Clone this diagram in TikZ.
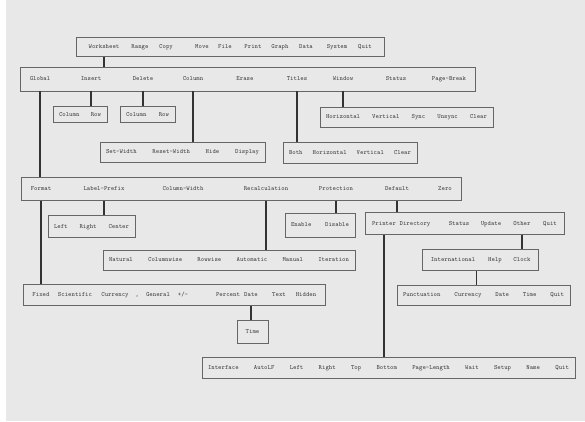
\documentclass[tikz,border=0pt]{standalone}
\usepackage{tikz}
\usetikzlibrary{fit}
\newcommand\menufont{\fontsize{6.5}{8}\selectfont\ttfamily\bfseries}
\tikzstyle{item}=[font=\menufont,text=black!70,inner sep=1pt,text height=5pt,text depth=1.5pt]
\tikzstyle{menu}=[draw=black!60,line width=0.7pt,inner xsep=8pt,inner ysep=6.5pt]
\tikzstyle{leaf}=[draw=black!60,line width=0.7pt,font=\menufont,text=black!70,inner xsep=6pt,text height=5pt,text depth=1.5pt]
\tikzstyle{link}=[draw=black!80,line width=1.2pt]

\begin{document}
\begin{tikzpicture}[x=1pt,y=-1pt]
\fill [white] (0,0) rectangle (585,421);
\fill [black!9] (6,0) rectangle (585,421);
\useasboundingbox (0,0) rectangle (585,421);

\node (ws) at (104,47) [item] {Worksheet};
\node (rng) at (140,47) [item] {Range};
\node (cpy) at (166,47) [item] {Copy};
\node (mov) at (202,47) [item] {Move};
\node (fil) at (225,47) [item] {File};
\node (prt) at (253,47) [item] {Print};
\node (grf) at (280,47) [item] {Graph};
\node (dat) at (306,47) [item] {Data};
\node (sys) at (337,47) [item] {System};
\node (quit) at (365,47) [item] {Quit};
\node (top) [menu,fit=(ws)(quit),inner xsep=11pt,inner ysep=5pt] {};

\node (glob) at (40,79) [item] {Global};
\node (ins) at (91,79) [item] {Insert};
\node (del) at (143,79) [item] {Delete};
\node (col) at (193,79) [item] {Column};
\node (era) at (245,79) [item] {Erase};
\node (tit) at (297,79) [item] {Titles};
\node (win) at (343,79) [item] {Window};
\node (sta) at (396,79) [item] {Status};
\node (pag) at (449,79) [item] {Page-Break};
\node (row2) [menu,fit=(glob)(pag),inner ysep=7.5pt] {};

\node (inssub) at (80,114.5) [leaf,minimum height=16pt] {\makebox[42pt]{Column\hfill Row}};
\node (delsub) at (147.5,114.5) [leaf,minimum height=16pt] {\makebox[43pt]{Column\hfill Row}};
\node (winsub) at (406.5,117) [leaf,minimum height=20pt] {\makebox[161pt]{Horizontal\hfill Vertical\hfill Sync\hfill Unsync\hfill Clear}};
\node (colsub) at (182.5,152) [leaf,minimum height=20pt] {\makebox[153pt]{Set-Width\hfill Reset-Width\hfill Hide\hfill Display}};
\node (titsub) at (350,152.5) [leaf,minimum height=21pt] {\makebox[122pt]{Both\hfill Horizontal\hfill Vertical\hfill Clear}};

\node (fmt) at (41,189) [item] {Format};
\node (lab) at (104,189) [item] {Label-Prefix};
\node (cw) at (183,189) [item] {Column-Width};
\node (rec) at (266,189) [item] {Recalculation};
\node (prot) at (336,189) [item] {Protection};
\node (dflt) at (397,189) [item] {Default};
\node (zero) at (445,189) [item] {Zero};
\node (row3) [menu,fit=(fmt)(zero),inner ysep=7pt] {};

\node (labsub) at (91.5,226.5) [leaf,minimum height=22pt] {\makebox[75pt]{Left\hfill Right\hfill Center}};
\node (protsub) at (320,225) [leaf,minimum height=24pt] {\makebox[58pt]{Enable\hfill Disable}};
\node (recsub) at (229,260) [leaf,minimum height=20pt] {\makebox[240pt]{Natural\hfill Columnwise\hfill Rowwise\hfill Automatic\hfill Manual\hfill Iteration}};

\node (prn) at (384,223.5) [item] {Printer};
\node (dir) at (415,223.5) [item] {Directory};
\node (dsta) at (459,223.5) [item] {Status};
\node (upd) at (491,223.5) [item] {Update};
\node (oth) at (522,223.5) [item] {Other};
\node (dquit) at (550,223.5) [item] {Quit};
\node (dfltrow) [menu,fit=(prn)(dquit),inner xsep=6pt] {};

\node (intl) at (453,260) [item] {International};
\node (hlp) at (495,260) [item] {Help};
\node (clk) at (522,260) [item] {Clock};
\node (othrow) [menu,fit=(intl)(clk),inner xsep=7pt,inner ysep=6pt] {};

\node (intlsub) at (483.5,295) [leaf,minimum height=20pt] {\makebox[161pt]{Punctuation\hfill Currency\hfill Date\hfill Time\hfill Quit}};

\node (fix) at (41,295) [item] {Fixed};
\node (sci) at (75,295) [item] {Scientific};
\node (cur) at (115,295) [item] {Currency};
\node (com) at (137,295) [item] {,};
\node (gen) at (158,295) [item] {General};
\node (pm) at (183,295) [item] {+/-};
\node (pct) at (228,295) [item] {Percent};
\node (date) at (251,295) [item] {Date};
\node (txt) at (279,295) [item] {Text};
\node (hid) at (306,295) [item] {Hidden};
\node (fmtrow) [menu,fit=(fix)(hid),inner ysep=6pt] {};

\node (timesub) at (252.5,331.5) [leaf,minimum width=31pt,minimum height=23pt] {Time};

\node (prnsub) at (388.5,367.5) [leaf,minimum height=21pt] {\makebox[361pt]{Interface\hfill AutoLF\hfill Left\hfill Right\hfill Top\hfill Bottom\hfill Page-Length\hfill Wait\hfill Setup\hfill Name\hfill Quit}};

\draw [link] (ws |- top.south) -- (ws |- row2.north);
\draw [link] (glob |- row2.south) -- (glob |- row3.north);
\draw [link] (ins |- row2.south) -- (ins |- inssub.north);
\draw [link] (del |- row2.south) -- (del |- delsub.north);
\draw [link] (col |- row2.south) -- (col |- colsub.north);
\draw [link] (tit |- row2.south) -- (tit |- titsub.north);
\draw [link] (win |- row2.south) -- (win |- winsub.north);
\draw [link] (fmt |- row3.south) -- (fmt |- fmtrow.north);
\draw [link] (lab |- row3.south) -- (lab |- labsub.north);
\draw [link] (rec |- row3.south) -- (rec |- recsub.north);
\draw [link] (prot |- row3.south) -- (prot |- protsub.north);
\draw [link] (dflt |- row3.south) -- (dflt |- dfltrow.north);
\draw [link] (prn |- dfltrow.south) -- (prn |- prnsub.north);
\draw [link] (oth |- dfltrow.south) -- (oth |- othrow.north);
\draw [link] (intl.east |- othrow.south) -- (intl.east |- intlsub.north);
\draw [link] (date |- fmtrow.south) -- (date |- timesub.north);
\end{tikzpicture}
\end{document}
